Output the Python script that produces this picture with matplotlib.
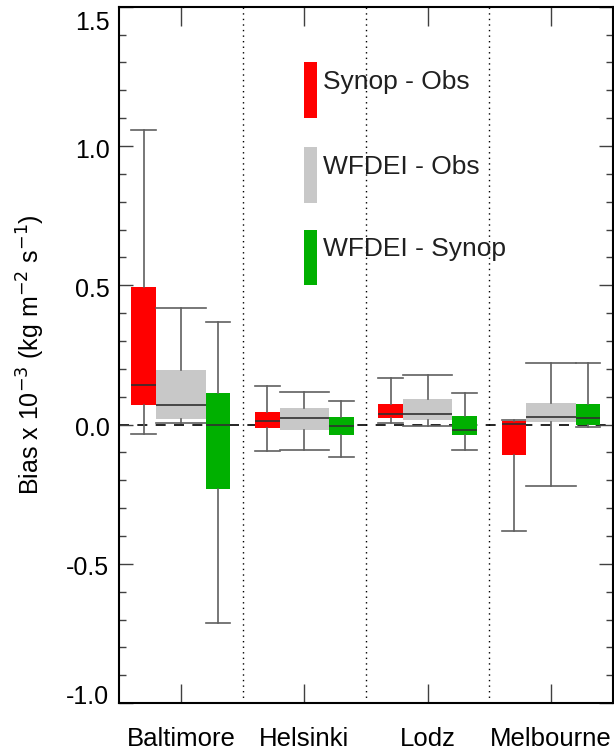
import matplotlib
matplotlib.use("Agg")
import matplotlib.pyplot as plt
import matplotlib.transforms as mtransforms
import numpy as np

plt.rcParams['font.family'] = ['Liberation Sans', 'DejaVu Sans']

cities = ["Baltimore", "Helsinki", "Lodz", "Melbourne"]
series = ["Synop - Obs", "WFDEI - Obs", "WFDEI - Synop"]
colors = ["#ff0000", "#c8c8c8", "#00b000"]

# whisker low, lower quartile, median, upper quartile, whisker high (x 10^-3)
synop_obs = [
    [-0.033, 0.071, 0.141, 0.495, 1.058],
    [-0.096, -0.012, 0.012, 0.045, 0.139],
    [0.004, 0.023, 0.037, 0.074, 0.167],
    [-0.381, -0.109, 0.003, 0.014, 0.016],
]
wfdei_obs = [
    [0.004, 0.021, 0.069, 0.196, 0.420],
    [-0.091, -0.020, 0.022, 0.059, 0.117],
    [-0.005, 0.015, 0.037, 0.091, 0.179],
    [-0.221, 0.009, 0.028, 0.076, 0.222],
]
wfdei_synop = [
    [-0.713, -0.233, 0.000, 0.112, 0.370],
    [-0.116, -0.037, -0.004, 0.027, 0.086],
    [-0.093, -0.037, -0.019, 0.031, 0.114],
    [-0.009, -0.002, 0.025, 0.074, 0.222],
]

offsets = [0.2, 0.5, 0.8]
widths = [0.2, 0.4, 0.2]

fig = plt.figure(figsize=(6.14, 7.52), dpi=100)
ax = fig.add_axes([0.194, 0.065, 0.804, 0.926])

for k, data in enumerate([synop_obs, wfdei_obs, wfdei_synop]):
    stats = []
    for row in data:
        lo, q1, med, q3, hi = row
        stats.append(dict(whislo=lo, q1=q1, med=med, q3=q3, whishi=hi, fliers=[]))
    pos = [i + offsets[k] for i in range(len(cities))]
    ax.bxp(stats, positions=pos, widths=widths[k], capwidths=widths[k],
           patch_artist=True, showfliers=False, manage_ticks=False,
           boxprops=dict(facecolor=colors[k], edgecolor='none', linewidth=0),
           whiskerprops=dict(color='#606060', linewidth=1.2),
           capprops=dict(color='#606060', linewidth=1.2),
           medianprops=dict(color='#303030', linewidth=1.2))

ax.axhline(0, color='black', linestyle=(0, (6, 5)), linewidth=1.2, zorder=0.5)
for x in range(1, len(cities)):
    ax.axvline(x, color='black', linestyle=(0, (1, 3)), linewidth=1.0, zorder=0.5)

ax.set_xlim(0, len(cities))
ax.set_ylim(-1.0, 1.5)
yt = np.arange(-1.0, 1.51, 0.5)
ax.set_yticks(yt)
ax.set_yticks(np.arange(-1.0, 1.51, 0.1), minor=True)
ax.set_yticklabels([f"{v:.1f}" for v in yt])
ax.set_xticks(np.arange(len(cities)) + 0.5)
ax.set_xticklabels(cities)

ax.tick_params(axis='x', which='major', direction='in', length=14, width=1.0,
               top=True, bottom=True, labelsize=18.5, pad=17, color='#404040')
ax.tick_params(axis='y', which='major', direction='in', length=10, width=1.0,
               left=True, right=True, labelsize=18, pad=7, color='#404040')
ax.tick_params(axis='y', which='minor', direction='in', length=5, width=1.0,
               left=True, right=True, color='#404040')
for s in ax.spines.values():
    s.set_linewidth(1.5)

# keep the end labels inside the frame, others sit slightly below their tick
shifts = [-6.5, 1.5, 1.5, 1.5, 1.5, 10.0]
for lab, dy in zip(ax.get_yticklabels(), shifts):
    lab.set_transform(lab.get_transform() +
                      mtransforms.ScaledTranslation(0, -dy / 72, fig.dpi_scale_trans))

ax.set_ylabel(r"Bias x 10$^{-3}$ (kg m$^{-2}$ s$^{-1}$)", fontsize=18, labelpad=14)

# legend: colour bars with labels
leg_y = [0.880, 0.758, 0.640]
for k in range(3):
    ax.add_patch(plt.Rectangle((0.374, leg_y[k] - 0.04), 0.026, 0.08,
                               transform=ax.transAxes, facecolor=colors[k],
                               edgecolor='none'))
    ax.text(0.413, leg_y[k] + 0.012, series[k], transform=ax.transAxes, fontsize=19,
            va='center', ha='left', color='#202020')

fig.savefig("out.png", dpi=100)
